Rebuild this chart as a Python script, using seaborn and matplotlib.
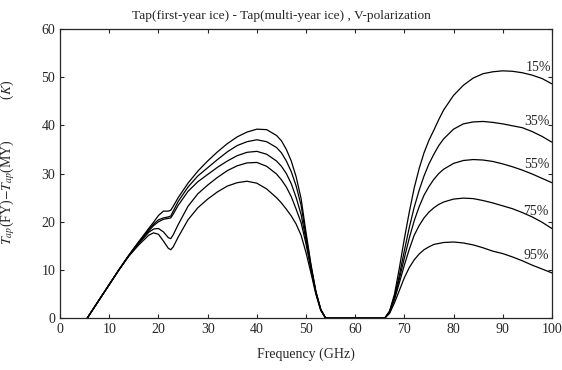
import pandas as pd
import matplotlib
matplotlib.use("Agg")
import matplotlib.pyplot as plt
import seaborn as sns

## Data (GHz, K)
freq = [5.5, 8, 10, 12, 14, 16, 18, 19, 20, 21, 22, 22.5, 23, 24, 26, 28, 30, 32, 34, 36,
        38, 40, 42, 44, 45, 46, 47, 48, 49, 50, 51, 52, 53, 54,
        66, 67, 68, 69, 70, 71, 72, 73, 74, 75, 76, 77, 78, 80, 82, 84, 86, 88, 90, 92,
        94, 96, 98, 100]

dT_15 = [0, 3.9, 7.0, 10.1, 13.1, 15.9, 18.6, 19.9, 21.3, 22.2, 22.2, 22.4, 23.2, 25.0, 28.0, 30.5,
         32.6, 34.5, 36.2, 37.6, 38.6, 39.2, 39.1, 37.9, 36.8, 35.0, 32.6, 29.3, 24.8, 17.8, 11.2,
         5.6, 1.8, 0,
         0, 1.5, 5.0, 10.5, 16.5, 22.0, 27.0, 31.0, 34.3, 36.9, 39.0, 41.2, 43.2, 46.2, 48.3, 49.8,
         50.7, 51.1, 51.3, 51.2, 50.9, 50.4, 49.7, 48.6]
dT_35 = [0, 3.9, 7.0, 10.1, 13.1, 15.8, 18.3, 19.5, 20.4, 20.8, 21.0, 21.2, 22.2, 24.2, 27.2, 29.5,
         31.2, 32.9, 34.5, 35.8, 36.6, 37.0, 36.6, 35.4, 34.3, 32.6, 30.4, 27.4, 23.4, 17.0, 10.9,
         5.5, 1.8, 0,
         0, 1.4, 4.6, 9.0, 14.0, 18.8, 23.0, 26.5, 29.5, 32.0, 34.0, 35.8, 37.2, 39.2, 40.3, 40.7,
         40.8, 40.6, 40.3, 39.9, 39.5, 38.7, 37.7, 36.5]
dT_55 = [0, 3.9, 7.0, 10.1, 13.0, 15.7, 18.1, 19.2, 20.0, 20.5, 20.7, 20.8, 21.6, 23.4, 26.3, 28.3,
         29.8, 31.3, 32.6, 33.7, 34.4, 34.6, 34.0, 32.6, 31.5, 30.0, 27.9, 25.0, 21.5, 16.2, 10.6,
         5.4, 1.8, 0,
         0, 1.3, 4.3, 8.2, 12.5, 16.6, 20.2, 23.1, 25.5, 27.3, 28.8, 30.0, 30.9, 32.1, 32.7, 32.9,
         32.8, 32.5, 32.0, 31.4, 30.7, 29.9, 29.0, 28.1]
dT_75 = [0, 3.9, 7.0, 10.1, 13.0, 15.5, 17.8, 18.5, 18.6, 17.9, 16.7, 16.5, 17.3, 19.4, 23.2, 25.8,
         27.6, 29.2, 30.6, 31.6, 32.2, 32.3, 31.5, 29.9, 28.7, 27.2, 25.2, 22.6, 19.8, 15.4, 10.2,
         5.2, 1.7, 0,
         0, 1.2, 3.9, 7.4, 11.0, 14.3, 17.2, 19.2, 20.8, 22.0, 22.9, 23.6, 24.1, 24.7, 24.9, 24.8,
         24.4, 23.9, 23.3, 22.7, 21.9, 21.0, 19.9, 18.6]
dT_95 = [0, 3.9, 7.0, 10.1, 12.9, 15.2, 17.2, 17.7, 17.4, 16.0, 14.5, 14.2, 14.8, 16.8, 20.4, 22.9,
         24.7, 26.2, 27.4, 28.1, 28.4, 28.0, 26.8, 25.0, 23.9, 22.6, 21.2, 19.5, 17.2, 13.6, 9.4,
         5.0, 1.6, 0,
         0, 1.0, 3.2, 5.8, 8.4, 10.5, 12.1, 13.3, 14.2, 14.8, 15.3, 15.5, 15.7, 15.8, 15.6, 15.2,
         14.6, 13.9, 13.4, 12.7, 11.9, 11.0, 10.2, 9.4]

fractions = ["15%", "35%", "55%", "75%", "95%"]
label_x = [97.2, 97.0, 97.0, 96.8, 96.8]
label_y = [51.9, 40.8, 31.9, 22.2, 12.9]

## Long form table for seaborn
df = pd.DataFrame({"freq": freq, "15%": dT_15, "35%": dT_35, "55%": dT_55,
                   "75%": dT_75, "95%": dT_95})
df_long = df.melt(id_vars="freq", var_name="fraction", value_name="dT")

## Style
sns.set_style("ticks")
plt.rcParams["font.family"] = ["Liberation Serif", "DejaVu Serif"]
plt.rcParams["mathtext.fontset"] = "stix"
plt.rcParams["xtick.direction"] = "in"
plt.rcParams["ytick.direction"] = "in"

fig = plt.figure(figsize=(5.62, 3.70), dpi=100)
ax = fig.add_axes([0.107, 0.140, 0.875, 0.782])

sns.lineplot(data=df_long, x="freq", y="dT", hue="fraction", palette=["black"] * 5,
             estimator=None, legend=False, linewidth=0.9, ax=ax)

for lab, lx, ly in zip(fractions, label_x, label_y):
    ax.text(lx, ly, lab, ha="center", va="center", fontsize=10)

ax.set_xlim(0, 100)
ax.set_ylim(0, 60)
ax.set_xticks(range(0, 101, 10))
ax.set_yticks(range(0, 61, 10))
ax.tick_params(top=True, right=True, labelsize=10, length=3, width=0.8)
for s in ax.spines.values():
    s.set_linewidth(0.9)

ax.set_title("Tap(first-year ice) - Tap(multi-year ice) , V-polarization",
             fontsize=9.6, x=0.45, pad=7)
ax.set_xlabel("Frequency (GHz)", fontsize=10, labelpad=8)
ax.set_ylabel(r"$T_{ap}$(FY)$-$$T_{ap}$(MY)            ($K$)", fontsize=10)
ax.yaxis.set_label_coords(-0.087, 0.54)

fig.savefig("out.png", dpi=100)
